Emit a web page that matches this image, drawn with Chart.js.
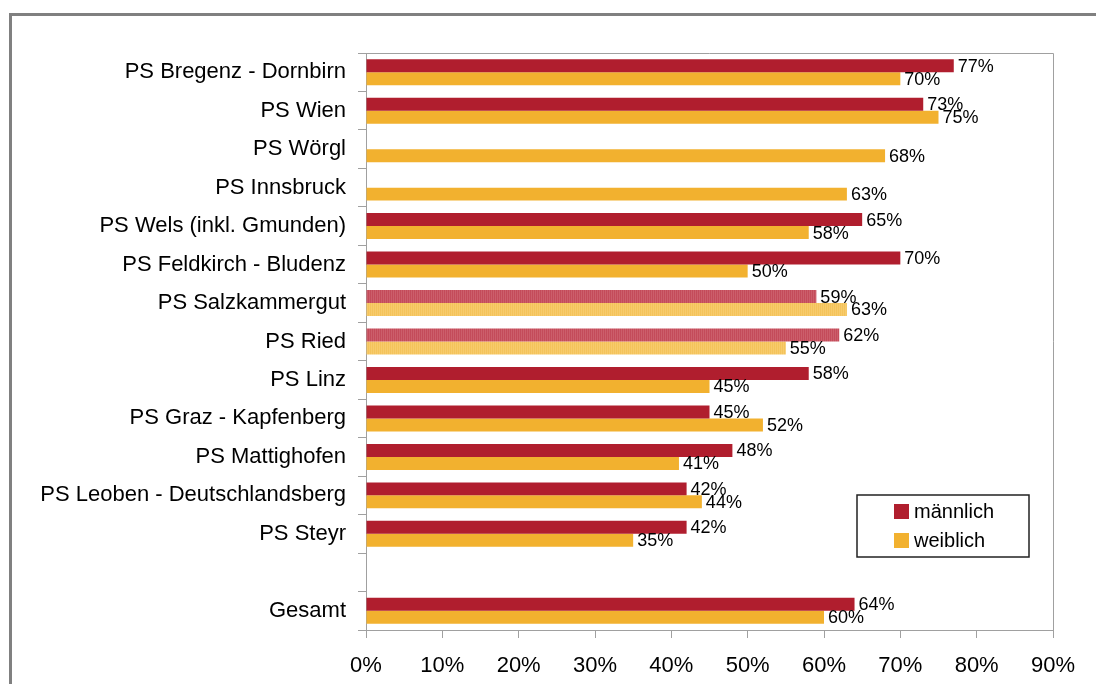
<!DOCTYPE html>
<html>
<head>
<meta charset="utf-8">
<script src="https://cdn.jsdelivr.net/npm/chart.js@4"></script>
<style>
  html, body { margin: 0; padding: 0; background: #fff; overflow: hidden; }
  #wrap { position: relative; width: 1096px; height: 684px; }
  #frame {
    position: absolute; left: 9px; top: 13px; width: 2000px; height: 2000px;
    border-top: 3px solid #808080; border-left: 3px solid #808080;
  }
  #chart { position: absolute; left: 0; top: 0; }
</style>
</head>
<body>
<div id="wrap">
  <div id="frame"></div>
  <canvas id="chart" width="1096" height="684"></canvas>
</div>
<script>
// Data
const categories = [
  'PS Bregenz - Dornbirn', 'PS Wien', 'PS Wörgl', 'PS Innsbruck',
  'PS Wels (inkl. Gmunden)', 'PS Feldkirch - Bludenz', 'PS Salzkammergut',
  'PS Ried', 'PS Linz', 'PS Graz - Kapfenberg', 'PS Mattighofen',
  'PS Leoben - Deutschlandsberg', 'PS Steyr', '', 'Gesamt'
];
const maleValues   = [77, 73, null, null, 65, 70, 59, 62, 58, 45, 48, 42, 42, null, 64];
const femaleValues = [70, 75, 68, 63, 58, 50, 63, 55, 45, 52, 41, 44, 35, null, 60];
const hatchedCategories = ['PS Salzkammergut', 'PS Ried'];
const xTicks = [0, 10, 20, 30, 40, 50, 60, 70, 80, 90];

const RED = '#B01E2E';
const ORANGE = '#F2B12F';

// fine striped pattern for the hatched bars
function stripes(c1, c2) {
  const p = document.createElement('canvas');
  p.width = 2; p.height = 2;
  const g = p.getContext('2d');
  g.fillStyle = c1; g.fillRect(0, 0, 1, 2);
  g.fillStyle = c2; g.fillRect(1, 0, 1, 2);
  return g.createPattern(p, 'repeat');
}
const redHatch = stripes('#C44B5A', '#CC5E6B');
const orangeHatch = stripes('#F4C35A', '#F7CB6C');

const maleColors = categories.map(c => hatchedCategories.includes(c) ? redHatch : RED);
const femaleColors = categories.map(c => hatchedCategories.includes(c) ? orangeHatch : ORANGE);

// value labels at bar ends
const valueLabels = {
  id: 'valueLabels',
  afterDatasetsDraw(chart) {
    const ctx = chart.ctx;
    ctx.save();
    ctx.font = '18px "Liberation Sans", Arial, sans-serif';
    ctx.fillStyle = '#000';
    ctx.textBaseline = 'middle';
    ctx.textAlign = 'left';
    chart.data.datasets.forEach((ds, i) => {
      chart.getDatasetMeta(i).data.forEach((el, j) => {
        const v = ds.data[j];
        if (v == null) return;
        ctx.fillText(v + '%', el.x + 4, el.y + 1);
      });
    });
    ctx.restore();
  }
};

// plot border + legend box
const frameAndLegend = {
  id: 'frameAndLegend',
  afterDraw(chart) {
    const ctx = chart.ctx;
    const a = chart.chartArea;
    ctx.save();
    ctx.strokeStyle = '#a0a0a0';
    ctx.lineWidth = 1;
    ctx.beginPath();
    ctx.moveTo(a.left, a.top + 0.5);
    ctx.lineTo(a.right + 0.5, a.top + 0.5);
    ctx.lineTo(a.right + 0.5, a.bottom);
    ctx.stroke();

    // legend
    ctx.strokeStyle = '#222';
    ctx.lineWidth = 1.5;
    ctx.fillStyle = '#fff';
    ctx.fillRect(857, 495, 172, 62);
    ctx.strokeRect(857, 495, 172, 62);
    ctx.font = '20px "Liberation Sans", Arial, sans-serif';
    ctx.textBaseline = 'middle';
    chart.data.datasets.forEach((ds, i) => {
      const y = 504 + i * 29;
      ctx.fillStyle = i === 0 ? RED : ORANGE;
      ctx.fillRect(894, y, 15, 15);
      ctx.fillStyle = '#000';
      ctx.fillText(ds.label, 914, y + 8);
    });
    ctx.restore();
  }
};

new Chart(document.getElementById('chart').getContext('2d'), {
  type: 'bar',
  data: {
    labels: categories,
    datasets: [
      { label: 'männlich', data: maleValues, backgroundColor: maleColors },
      { label: 'weiblich', data: femaleValues, backgroundColor: femaleColors }
    ]
  },
  options: {
    indexAxis: 'y',
    responsive: false,
    animation: false,
    layout: { padding: { top: 53, right: 43, left: 0, bottom: 0 } },
    datasets: { bar: { categoryPercentage: 0.675, barPercentage: 1.0 } },
    plugins: {
      legend: { display: false },
      tooltip: { enabled: false }
    },
    scales: {
      x: {
        min: 0,
        max: 90,
        afterBuildTicks: s => { s.ticks = xTicks.map(v => ({ value: v })); },
        afterFit: s => { s.height = 54; },
        grid: { drawOnChartArea: false, tickLength: 8, color: '#a0a0a0' },
        border: { color: '#a0a0a0' },
        ticks: {
          color: '#000',
          padding: 15,
          maxRotation: 0,
          font: { family: '"Liberation Sans", Arial, sans-serif', size: 22 },
          callback: v => v + '%'
        }
      },
      y: {
        afterFit: s => { s.width = 366; },
        grid: { offset: true, drawOnChartArea: false, tickLength: 8, color: '#a0a0a0' },
        border: { color: '#a0a0a0' },
        ticks: {
          color: '#000',
          padding: 12,
          autoSkip: false,
          font: { family: '"Liberation Sans", Arial, sans-serif', size: 22 }
        }
      }
    }
  },
  plugins: [valueLabels, frameAndLegend]
});
</script>
</body>
</html>
